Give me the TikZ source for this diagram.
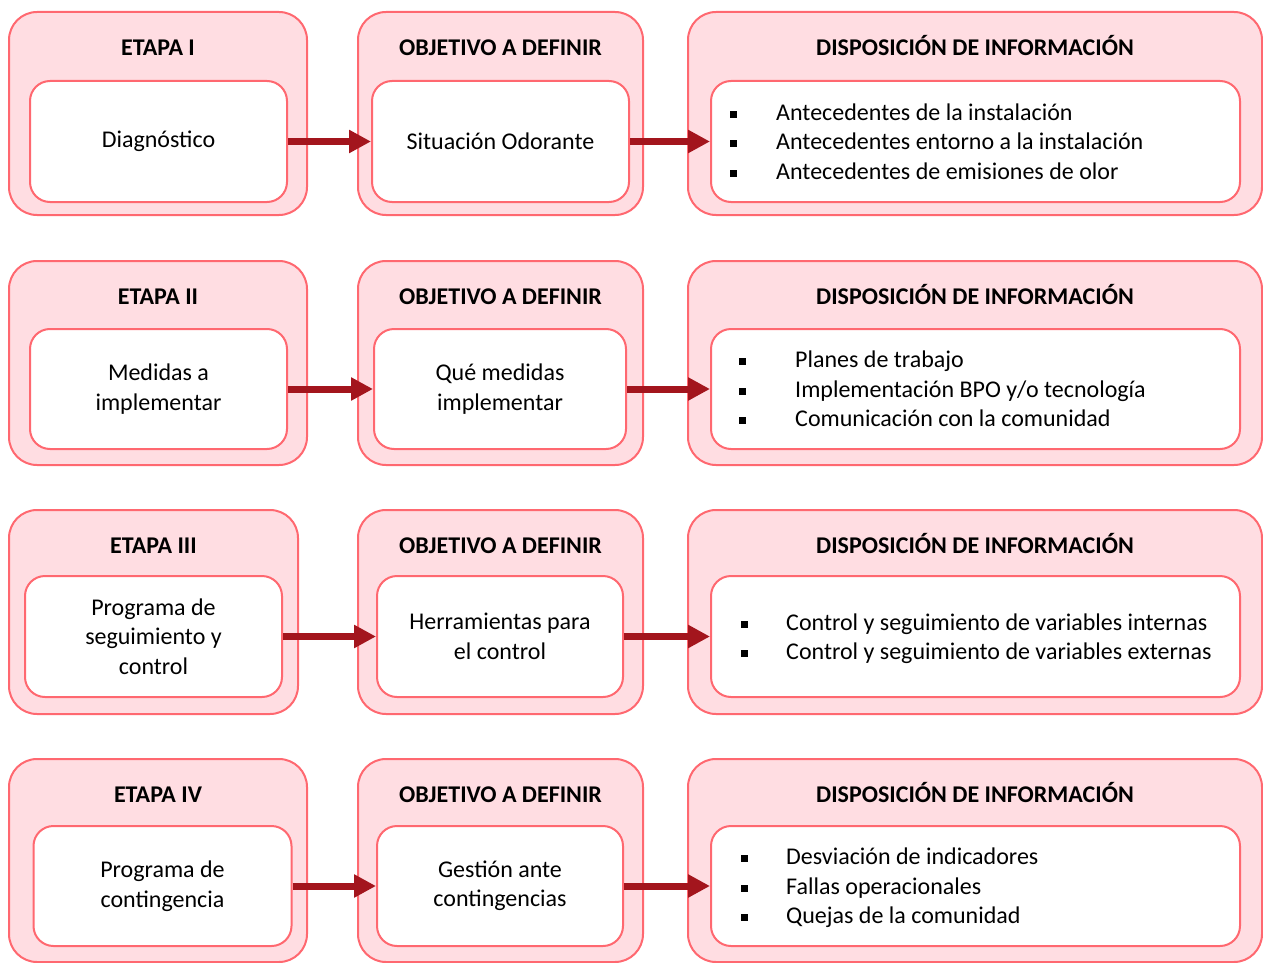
\documentclass[tikz,border=0pt]{standalone}
\usepackage{fontspec}
\setmainfont{Carlito}
\usepackage{tikz}
\usetikzlibrary{arrows.meta}

\tikzset{
  framebox/.style={draw=framered, fill=framepink, line width=2pt, rounded corners=28pt},
  innerbox/.style={draw=framered, fill=white, line width=2pt, rounded corners=20pt,
    align=center, inner sep=0pt, font=\fontsize{24}{29.5}\selectfont},
  boxtitle/.style={anchor=base, font=\fontsize{24}{29}\selectfont\bfseries},
  itemlist/.style={anchor=west, align=left, inner sep=0pt, font=\fontsize{24}{29.5}\selectfont},
  flecha/.style={draw=arrowred, line width=7pt, -{Triangle[length=22pt,width=22pt]}}
}
\newcommand{\sqbullet}{\raisebox{2.5pt}{\rule{7pt}{7pt}}}

\begin{document}
\begin{tikzpicture}[x=1pt,y=-1pt]
    % colores
    \definecolor{framepink}{RGB}{255, 221, 226}
    \definecolor{framered}{RGB}{255, 104, 112}
    \definecolor{arrowred}{RGB}{163, 21, 29}

    \useasboundingbox (0,0) rectangle (1263,963);

    % Etapa I
    \draw[framebox] (9,12) rectangle (307,215);
    \draw[framebox] (358,12) rectangle (643,215);
    \draw[framebox] (688,12) rectangle (1262,215);
    \node[boxtitle] (t1a) at (158,55.5) {ETAPA I};
    \node[boxtitle] (t1b) at (500.5,55.5) {OBJETIVO A DEFINIR};
    \node[boxtitle] (t1c) at (975,55.5) {DISPOSICIÓN DE INFORMACIÓN};
    \node[innerbox, minimum width=257pt, minimum height=121pt] (diag) at (158.5,141.5) {Diagnóstico};
    \node[innerbox, minimum width=257pt, minimum height=121pt] (situ) at (500.5,141.5) {Situación Odorante};
    \node[innerbox, minimum width=529pt, minimum height=121pt] (info1) at (975.5,141.5) {};
    \node[itemlist] (list1) at (730,144) {%
      \begin{tabular}{@{}l@{\hspace{39pt}}l@{}}
      \sqbullet & Antecedentes de la instalación\\
      \sqbullet & Antecedentes entorno a la instalación\\
      \sqbullet & Antecedentes de emisiones de olor
      \end{tabular}};
    \draw[flecha] (diag.east) -- (situ.west);
    \draw[flecha] (situ.east) -- (info1.west);

    % Etapa II
    \draw[framebox] (9,261) rectangle (307,465);
    \draw[framebox] (358,261) rectangle (643,465);
    \draw[framebox] (688,261) rectangle (1262,465);
    \node[boxtitle] (t2a) at (158,304.5) {ETAPA II};
    \node[boxtitle] (t2b) at (500.5,304.5) {OBJETIVO A DEFINIR};
    \node[boxtitle] (t2c) at (975,304.5) {DISPOSICIÓN DE INFORMACIÓN};
    \node[innerbox, minimum width=257pt, minimum height=120pt] (medi) at (158.5,389) {Medidas a\\implementar};
    \node[innerbox, minimum width=252pt, minimum height=120pt] (qmed) at (500,389) {Qué medidas\\implementar};
    \node[innerbox, minimum width=529pt, minimum height=120pt] (info2) at (975.5,389) {};
    \node[itemlist] (list2) at (739,391.5) {%
      \begin{tabular}{@{}l@{\hspace{49pt}}l@{}}
      \sqbullet & Planes de trabajo\\
      \sqbullet & Implementación BPO y/o tecnología\\
      \sqbullet & Comunicación con la comunidad
      \end{tabular}};
    \draw[flecha] (medi.east) -- (qmed.west);
    \draw[flecha] (qmed.east) -- (info2.west);

    % Etapa III
    \draw[framebox] (9,510) rectangle (298,714);
    \draw[framebox] (358,510) rectangle (643,714);
    \draw[framebox] (688,510) rectangle (1262,714);
    \node[boxtitle] (t3a) at (153.5,553.5) {ETAPA III};
    \node[boxtitle] (t3b) at (500.5,553.5) {OBJETIVO A DEFINIR};
    \node[boxtitle] (t3c) at (975,553.5) {DISPOSICIÓN DE INFORMACIÓN};
    \node[innerbox, minimum width=257pt, minimum height=121pt] (prog) at (153.5,636.5) {Programa de\\seguimiento y\\control};
    \node[innerbox, minimum width=246pt, minimum height=121pt] (herr) at (500,636.5) {Herramientas para\\el control};
    \node[innerbox, minimum width=529pt, minimum height=121pt] (info3) at (975.5,636.5) {};
    \node[itemlist] (list3) at (741,639) {%
      \begin{tabular}{@{}l@{\hspace{38pt}}l@{}}
      \sqbullet & Control y seguimiento de variables internas\\
      \sqbullet & Control y seguimiento de variables externas
      \end{tabular}};
    \draw[flecha] (prog.east) -- (herr.west);
    \draw[flecha] (herr.east) -- (info3.west);

    % Etapa IV
    \draw[framebox] (9,759) rectangle (307,962);
    \draw[framebox] (358,759) rectangle (643,962);
    \draw[framebox] (688,759) rectangle (1262,962);
    \node[boxtitle] (t4a) at (158,802.5) {ETAPA IV};
    \node[boxtitle] (t4b) at (500.5,802.5) {OBJETIVO A DEFINIR};
    \node[boxtitle] (t4c) at (975,802.5) {DISPOSICIÓN DE INFORMACIÓN};
    \node[innerbox, minimum width=258pt, minimum height=120pt] (cont) at (162.5,886) {Programa de\\contingencia};
    \node[innerbox, minimum width=246pt, minimum height=120pt] (gest) at (500,886) {Gestión ante\\contingencias};
    \node[innerbox, minimum width=529pt, minimum height=120pt] (info4) at (975.5,886) {};
    \node[itemlist] (list4) at (741,888.5) {%
      \begin{tabular}{@{}l@{\hspace{38pt}}l@{}}
      \sqbullet & Desviación de indicadores\\
      \sqbullet & Fallas operacionales\\
      \sqbullet & Quejas de la comunidad
      \end{tabular}};
    \draw[flecha] (cont.east) -- (gest.west);
    \draw[flecha] (gest.east) -- (info4.west);

\end{tikzpicture}
\end{document}
